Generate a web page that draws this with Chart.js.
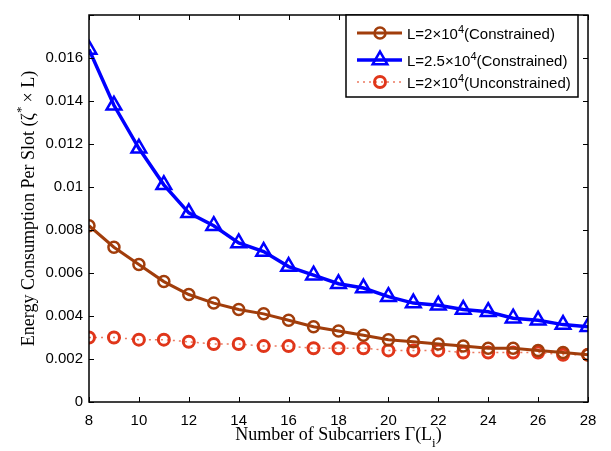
<!DOCTYPE html>
<html lang="en">
<head>
<meta charset="UTF-8">
<title>Energy Consumption Per Slot</title>
<script src="https://cdn.jsdelivr.net/npm/chart.js@4.4.1/dist/chart.umd.min.js"></script>
<style>
  html, body { margin: 0; padding: 0; background: #fff; }
  #wrap { width: 611px; height: 451px; }
</style>
</head>
<body>
<div id="wrap"><canvas id="chart" width="611" height="451"></canvas></div>
<script>
// data
const subcarriers = [8, 9, 10, 11, 12, 13, 14, 15, 16, 17, 18, 19, 20, 21, 22, 23, 24, 25, 26, 27, 28];
const constrained2 = [0.0082, 0.0072, 0.0064, 0.0056, 0.0050, 0.0046, 0.0043, 0.0041, 0.0038, 0.0035, 0.0033,
                      0.0031, 0.0029, 0.0028, 0.0027, 0.0026, 0.0025, 0.0025, 0.0024, 0.0023, 0.0022];
const constrained25 = [0.0164, 0.0138, 0.0118, 0.0101, 0.0088, 0.0082, 0.0074, 0.0070, 0.0063, 0.0059, 0.0055,
                       0.0053, 0.0049, 0.0046, 0.0045, 0.0043, 0.0042, 0.0039, 0.0038, 0.0036, 0.0035];
const unconstrained2 = [0.0030, 0.0030, 0.0029, 0.0029, 0.0028, 0.0027, 0.0027, 0.0026, 0.0026, 0.0025, 0.0025,
                        0.0025, 0.0024, 0.0024, 0.0024, 0.0023, 0.0023, 0.0023, 0.0023, 0.0022, 0.0022];
const xTicks = [8, 10, 12, 14, 16, 18, 20, 22, 24, 26, 28];
const yTicks = [0, 0.002, 0.004, 0.006, 0.008, 0.01, 0.012, 0.014, 0.016];
const legendLabels = [
  ['L=2\u00d710', '4', '(Constrained)'],
  ['L=2.5\u00d710', '4', '(Constrained)'],
  ['L=2\u00d710', '4', '(Unconstrained)']
];

const BROWN = '#a13d0b';
const BLUE = '#0000ff';
const RED = '#e0361a';
const SANS = '"Liberation Sans", Arial, sans-serif';
const SERIF = '"Liberation Serif", "Times New Roman", serif';

function pts(ys) { return subcarriers.map((x, i) => ({ x: x, y: ys[i] })); }

function marker(ctx, style, x, y, r, color, lw) {
  ctx.save();
  ctx.strokeStyle = color;
  ctx.lineWidth = lw;
  ctx.setLineDash([]);
  ctx.beginPath();
  if (style === 'triangle') {
    const half = r * Math.sqrt(3) / 2;
    ctx.moveTo(x, y - r);
    ctx.lineTo(x + half, y + r / 2);
    ctx.lineTo(x - half, y + r / 2);
    ctx.closePath();
  } else {
    ctx.arc(x, y, r, 0, Math.PI * 2);
  }
  ctx.stroke();
  ctx.restore();
}

function supText(ctx, parts, x, y, size, family) {
  ctx.font = size + 'px ' + family;
  ctx.fillText(parts[0], x, y);
  x += ctx.measureText(parts[0]).width;
  ctx.font = Math.round(size * 0.72) + 'px ' + family;
  ctx.fillText(parts[1], x, y - size * 0.42);
  x += ctx.measureText(parts[1]).width;
  ctx.font = size + 'px ' + family;
  ctx.fillText(parts[2], x, y);
}

const decorations = {
  id: 'decorations',
  afterDraw(chart) {
    const ctx = chart.ctx;
    const a = chart.chartArea;
    const xs = chart.scales.x, ys = chart.scales.y;
    ctx.save();
    // box
    ctx.strokeStyle = '#000';
    ctx.lineWidth = 1.5;
    ctx.strokeRect(a.left, a.top, a.right - a.left, a.bottom - a.top);
    // inward ticks on all four sides
    ctx.lineWidth = 1;
    ctx.beginPath();
    xTicks.forEach(v => {
      const px = Math.round(xs.getPixelForValue(v)) + 0.5;
      ctx.moveTo(px, a.bottom); ctx.lineTo(px, a.bottom - 5);
      ctx.moveTo(px, a.top); ctx.lineTo(px, a.top + 5);
    });
    yTicks.concat([0.018]).forEach(v => {
      const py = Math.round(ys.getPixelForValue(v)) + 0.5;
      ctx.moveTo(a.left, py); ctx.lineTo(a.left + 5, py);
      ctx.moveTo(a.right, py); ctx.lineTo(a.right - 5, py);
    });
    ctx.stroke();

    // x title with subscript
    ctx.fillStyle = '#000';
    ctx.textBaseline = 'alphabetic';
    ctx.font = '18px ' + SERIF;
    const t1 = 'Number of Subcarriers \u0393(L', t2 = 'i', t3 = ')';
    const w1 = ctx.measureText(t1).width, w3 = ctx.measureText(t3).width;
    ctx.font = '13px ' + SERIF;
    const w2 = ctx.measureText(t2).width;
    let tx = (a.left + a.right) / 2 - (w1 + w2 + w3) / 2;
    const ty = 440;
    ctx.font = '18px ' + SERIF;
    ctx.fillText(t1, tx, ty);
    ctx.font = '13px ' + SERIF;
    ctx.fillText(t2, tx + w1, ty + 7);
    ctx.font = '18px ' + SERIF;
    ctx.fillText(t3, tx + w1 + w2, ty);

    // y title with superscript, rotated
    ctx.save();
    ctx.translate(34, (a.top + a.bottom) / 2);
    ctx.rotate(-Math.PI / 2);
    const y1 = 'Energy Consumption Per Slot (\u03b6', y2 = '*', y3 = '\u00d7 L)';
    ctx.font = '18px ' + SERIF;
    const v1 = ctx.measureText(y1).width, v3 = ctx.measureText(y3).width;
    ctx.font = '13px ' + SERIF;
    const v2 = ctx.measureText(y2).width + 4;
    let sx = -(v1 + v2 + v3) / 2;
    ctx.font = '18px ' + SERIF;
    ctx.fillText(y1, sx, 0);
    ctx.font = '13px ' + SERIF;
    ctx.fillText(y2, sx + v1, -9);
    ctx.font = '18px ' + SERIF;
    ctx.fillText(y3, sx + v1 + v2, 0);
    ctx.restore();

    // legend box
    const lx = 346, ly = 15, lw = 232, lh = 82;
    ctx.fillStyle = '#fff';
    ctx.fillRect(lx, ly, lw, lh);
    ctx.strokeStyle = '#000';
    ctx.lineWidth = 1.5;
    ctx.strokeRect(lx, ly, lw, lh);
    const rows = [33, 60, 82];
    chart.data.datasets.forEach((ds, i) => {
      const ry = rows[i];
      ctx.save();
      ctx.strokeStyle = ds.borderColor;
      ctx.lineWidth = ds.borderWidth;
      ctx.setLineDash(ds.borderDash || []);
      ctx.beginPath();
      ctx.moveTo(357, ry); ctx.lineTo(402, ry);
      ctx.stroke();
      ctx.restore();
      marker(ctx, ds.pointStyle, 380, ry, ds.pointRadius, ds.pointBorderColor, ds.pointBorderWidth);
      ctx.fillStyle = '#000';
      supText(ctx, legendLabels[i], 407, ry + 6, 15, SANS);
    });
    ctx.restore();
  }
};

new Chart(document.getElementById('chart').getContext('2d'), {
  type: 'line',
  data: {
    datasets: [
      {
        label: legendLabels[0].join(''),
        data: pts(constrained2),
        borderColor: BROWN, borderWidth: 3,
        pointStyle: 'circle', pointRadius: 5.5, pointBorderWidth: 2.5,
        pointBorderColor: BROWN, pointBackgroundColor: 'rgba(0,0,0,0)',
        order: 2
      },
      {
        label: legendLabels[1].join(''),
        data: pts(constrained25),
        borderColor: BLUE, borderWidth: 3.5,
        pointStyle: 'triangle', pointRadius: 8.5, pointBorderWidth: 2.5,
        pointBorderColor: BLUE, pointBackgroundColor: 'rgba(0,0,0,0)',
        order: 1
      },
      {
        label: legendLabels[2].join(''),
        data: pts(unconstrained2),
        borderColor: '#ec7a60', borderWidth: 1.5, borderDash: [2, 4],
        pointStyle: 'circle', pointRadius: 5.5, pointBorderWidth: 3,
        pointBorderColor: RED, pointBackgroundColor: 'rgba(0,0,0,0)',
        order: 3
      }
    ]
  },
  options: {
    responsive: false,
    animation: false,
    layout: { padding: { left: 0, right: 23, top: 9, bottom: 0 } },
    plugins: { legend: { display: false }, tooltip: { enabled: false } },
    elements: { line: { tension: 0 } },
    scales: {
      x: {
        type: 'linear', min: 8, max: 28,
        grid: { display: false, drawTicks: false },
        border: { display: false },
        afterBuildTicks: s => { s.ticks = xTicks.map(v => ({ value: v })); },
        afterFit: s => { s.height = 49; },
        ticks: { padding: 10, color: '#000', font: { family: SANS, size: 15 }, maxRotation: 0 }
      },
      y: {
        type: 'linear', min: 0, max: 0.018,
        grid: { display: false, drawTicks: false },
        border: { display: false },
        afterBuildTicks: s => { s.ticks = yTicks.map(v => ({ value: v })); },
        afterFit: s => { s.width = 89; },
        ticks: {
          padding: 6, color: '#000', font: { family: SANS, size: 15 },
          callback: v => String(parseFloat(v.toFixed(3)))
        }
      }
    }
  },
  plugins: [decorations]
});
</script>
</body>
</html>
